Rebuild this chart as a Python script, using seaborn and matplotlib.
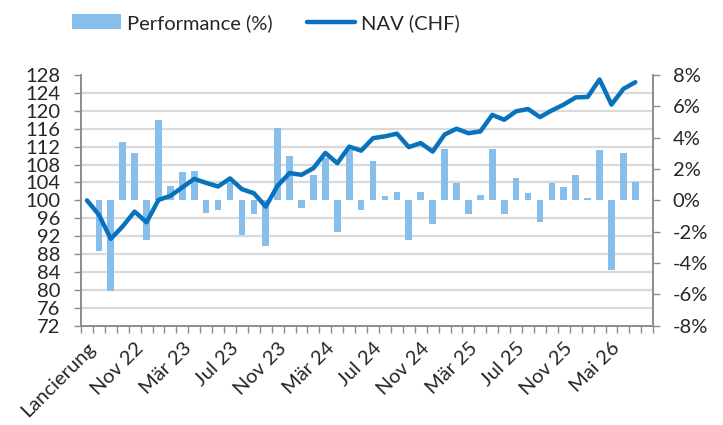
import numpy as np
import pandas as pd
import seaborn as sns
import matplotlib.pyplot as plt
from matplotlib.patches import Patch
from matplotlib.lines import Line2D
from matplotlib.ticker import FuncFormatter

# monthly data, first point = launch, last category left empty
performance = [np.nan, -3.2, -5.8, 3.7, 3.0, -2.5, 5.1, 0.9, 1.8, 1.9, -0.8, -0.6,
               1.1, -2.2, -0.9, -2.9, 4.6, 2.8, -0.5, 1.6, 2.7, -2.0, 3.2, -0.6,
               2.5, 0.25, 0.55, -2.5, 0.55, -1.5, 3.3, 1.1, -0.85, 0.35, 3.25, -0.85,
               1.45, 0.45, -1.35, 1.1, 0.85, 1.6, 0.17, 3.2, -4.45, 3.0, 1.2, np.nan]
nav = [100, 96.8, 91.4, 94.2, 97.5, 95.1, 100.1, 101.0, 102.9, 104.8, 103.9, 103.1,
       104.9, 102.5, 101.6, 98.6, 103.3, 106.1, 105.7, 107.2, 110.6, 108.3, 112.0, 111.1,
       113.9, 114.3, 114.9, 111.9, 112.8, 110.9, 114.7, 116.0, 115.0, 115.4, 119.1, 118.0,
       119.9, 120.4, 118.6, 120.1, 121.4, 123.0, 123.1, 127.0, 121.4, 124.9, 126.4, np.nan]
tick_labels = ['Lancierung', 'Nov 22', 'Mär 23', 'Jul 23', 'Nov 23', 'Mär 24',
               'Jul 24', 'Nov 24', 'Mär 25', 'Jul 25', 'Nov 25', 'Mai 26']
nav_ticks = list(range(72, 129, 4))
perf_ticks = list(range(-8, 9, 2))

df = pd.DataFrame({'pos': np.arange(len(nav)), 'perf': performance, 'nav': nav})

sns.set_theme(style='white')
plt.rcParams['font.family'] = ['Lato', 'DejaVu Sans']
bar_color = '#88BEEA'
line_color = '#0872BE'
axis_color = '#8C8C8C'
fs = 14.5

fig = plt.figure(figsize=(7.23, 4.25), dpi=100)
ax_bar = fig.add_axes([0.1120, 0.2336, 0.7915, 0.5899])
ax_line = ax_bar.twinx()

sns.barplot(data=df.dropna(subset=['perf']), x='pos', y='perf', native_scale=True,
            color=bar_color, saturation=1, width=0.56, linewidth=0, ax=ax_bar, zorder=2)
sns.lineplot(data=df, x='pos', y='nav', color=line_color, linewidth=3.2, ax=ax_line)

n = len(nav)
ax_bar.set_xlim(-0.5, n - 0.5)
ax_bar.set_ylim(-8, 8)
ax_line.set_ylim(72, 128)

# bars axis shows its scale on the right, line axis on the left
ax_bar.yaxis.tick_right()
ax_line.yaxis.tick_left()
ax_bar.set_yticks(perf_ticks)
ax_bar.yaxis.set_major_formatter(FuncFormatter(lambda v, p: f'{v:.0f}%'))
ax_line.set_yticks(nav_ticks)

# gridlines at the NAV ticks, drawn behind the bars
grid_pos = [(v - 100) / 3.5 for v in nav_ticks]
ax_bar.set_yticks(grid_pos, minor=True)
ax_bar.grid(which='minor', axis='y', color='#D9D9D9', linewidth=1.6, zorder=0)
ax_bar.set_axisbelow(True)

ax_bar.set_xticks(np.arange(0, 4 * len(tick_labels), 4))
ax_bar.set_xticklabels(tick_labels, rotation=45, ha='right', rotation_mode='anchor')
ax_bar.set_xticks(np.arange(-0.5, n, 1), minor=True)
ax_bar.tick_params(axis='x', which='major', length=0, pad=10, labelsize=fs)
ax_bar.tick_params(axis='x', which='minor', length=5, width=1, color=axis_color,
                   direction='out', bottom=True)
ax_bar.tick_params(axis='y', which='major', length=5, width=1, color=axis_color,
                   right=True, left=False, labelsize=fs, pad=9)
ax_bar.tick_params(axis='y', which='minor', length=0, left=False, right=False)
ax_line.tick_params(axis='y', length=5, width=1, color=axis_color, left=True,
                    right=False, labelsize=fs, pad=10)

ax_bar.set_xlabel('')
ax_bar.set_ylabel('')
ax_line.set_xlabel('')
ax_line.set_ylabel('')

for a in (ax_bar, ax_line):
    for side in ('left', 'right', 'bottom'):
        a.spines[side].set_visible(True)
        a.spines[side].set_color(axis_color)
        a.spines[side].set_linewidth(1.2)
    a.spines['top'].set_visible(False)

handles = [Patch(facecolor=bar_color, edgecolor='none'),
           Line2D([0], [0], color=line_color, linewidth=3.2)]
fig.legend(handles, ['Performance (%)', 'NAV (CHF)'], loc='upper left',
           bbox_to_anchor=(0.075, 1.01), ncol=2, frameon=False, fontsize=fs,
           handlelength=2.4, handleheight=0.75, handletextpad=0.3, columnspacing=1.7)

fig.savefig('out.png', dpi=100)
